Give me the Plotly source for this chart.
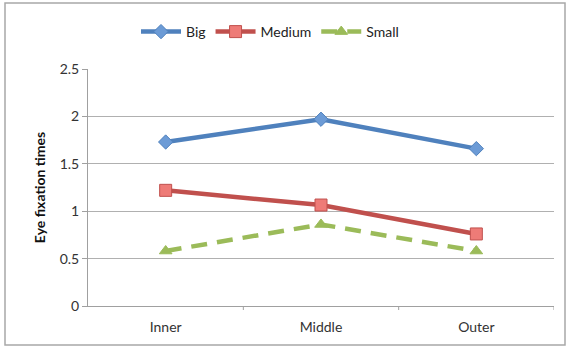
import plotly.graph_objects as go

categories = ["Inner", "Middle", "Outer"]
big = [1.73, 1.97, 1.66]
medium = [1.22, 1.065, 0.76]
small = [0.58, 0.86, 0.58]
y_ticks = [0, 0.5, 1, 1.5, 2, 2.5]
y_tick_labels = ["0", "0.5", "1", "1.5", "2", "2.5"]

FONT = "Lato, Open Sans, sans-serif"

fig = go.Figure()
fig.add_trace(go.Scatter(
    x=categories, y=big, name="Big", mode="lines+markers",
    line=dict(color="#4F81BD", width=4.5),
    marker=dict(symbol="diamond", size=11, color="#6C9BD6",
                line=dict(color="#4F81BD", width=1))))
fig.add_trace(go.Scatter(
    x=categories, y=medium, name="Medium", mode="lines+markers",
    line=dict(color="#C0504D", width=4.5),
    marker=dict(symbol="square", size=12, color="#EE7B77",
                line=dict(color="#C0504D", width=1))))
fig.add_trace(go.Scatter(
    x=categories, y=small, name="Small", mode="lines+markers",
    line=dict(color="#9BBB59", width=4.5, dash="16px,10px"),
    marker=dict(symbol="triangle-up", size=11, color="#9BBB59",
                line=dict(color="#9BBB59", width=1))))

L, R, T, B = 88, 14, 69, 41
W, H = 568, 347
pw, ph = W - L - R, H - T - B

def px(x):
    return (x - L) / pw

def py(y):
    return (H - B - y) / ph

fig.update_layout(
    width=W, height=H,
    margin=dict(l=L, r=R, t=T, b=B, autoexpand=False),
    paper_bgcolor="white", plot_bgcolor="white",
    font=dict(family=FONT, size=14, color="#333333"),
    showlegend=True,
    legend=dict(orientation="h", x=px(136), xanchor="left", y=py(32),
                yanchor="middle", font=dict(size=14, color="#222222"),
                itemwidth=40, tracegroupgap=0, bgcolor="rgba(0,0,0,0)"),
    xaxis=dict(range=[-0.5, 2.5], showgrid=False, showline=True,
               linecolor="#A0A0A0", linewidth=1, ticks="",
               ticklabelstandoff=8,
               tickfont=dict(size=14, color="#333333"), fixedrange=True),
    yaxis=dict(range=[0, 2.5], tickvals=y_ticks, ticktext=y_tick_labels,
               showgrid=True, gridcolor="#B0B0B0", gridwidth=1,
               showline=True, linecolor="#A0A0A0", linewidth=1,
               ticks="outside", ticklen=5, tickcolor="#A0A0A0",
               tickfont=dict(size=14, color="#333333"), zeroline=False,
               title=dict(text="<b>Eye fixation times</b>", font=dict(size=14, color="#111111"),
                          standoff=10)),
    shapes=[
        dict(type="rect", xref="paper", yref="paper",
             x0=px(5), x1=px(565), y0=py(345), y1=py(3),
             line=dict(color="#A8A8A8", width=1.5), layer="below"),
    ] + [
        dict(type="line", xref="x", yref="paper", x0=v, x1=v, y0=0, y1=py(310),
             line=dict(color="#A0A0A0", width=1))
        for v in [0.5, 1.5, 2.5]
    ],
)

fig.write_html("out.html", config={"displayModeBar": False},
               post_script="document.body.style.margin='0';document.body.style.overflow='hidden';")
